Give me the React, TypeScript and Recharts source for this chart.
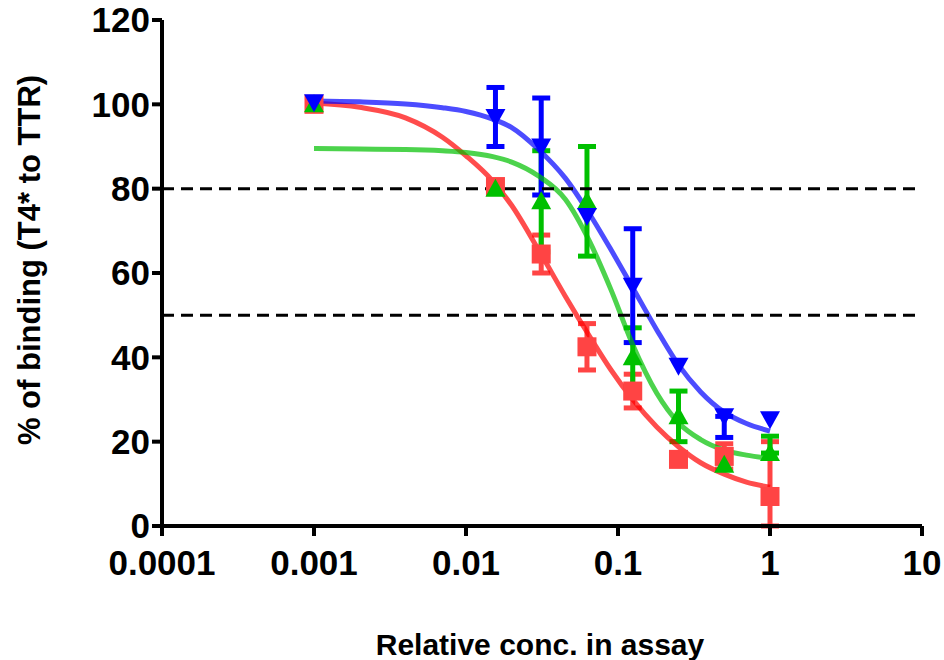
import React from 'react';
import {
  ComposedChart, Line, Scatter, XAxis, YAxis, ErrorBar, ReferenceLine, Label,
} from 'recharts';

// Measured points (serial dilutions); errors are [below, above]
const concX = [0.001, 0.015625, 0.03125, 0.0625, 0.125, 0.25, 0.5, 1];
const redY = [100, 80.5, 64.5, 42.5, 32, 15.8, 16.5, 7];
const redErr = [0, 0, [4.5, 4.5], [5.5, 5.5], [4, 4], 0, [3, 3], [7, 13]];
const greenY = [100, 80, 77, 77, 40, 26, 14.5, 17.3];
const greenErr = [0, 0, [12, 12], [13, 13], [7, 7], [6, 6], 0, [0, 4]];
const blueY = [100.5, 97, 90, 73.5, 57, 38, 26, 25.3];
const blueErr = [0, [7, 7], [11.5, 11.5], 0, [13.5, 13.5], 0, [5, 0], 0];

// Fitted curves
const curveX = [0.001, 0.002, 0.004, 0.007, 0.01, 0.015, 0.02, 0.03, 0.045, 0.065, 0.09, 0.125, 0.18, 0.25, 0.35, 0.5, 0.7, 1];
const redFit = [100.3, 99.3, 96.8, 92.2, 87.8, 81.8, 76, 65.5, 54.5, 45, 37, 30, 23.5, 18.8, 15, 12.3, 10.4, 9.2];
const greenFit = [89.5, 89.4, 89.3, 89, 88.6, 87.6, 86.3, 83, 77.5, 67.5, 56, 43, 31.5, 24.5, 20.5, 18, 16.8, 16];
const blueFit = [100.8, 100.6, 100.1, 99.2, 98.3, 96.5, 94.5, 89.3, 82.5, 74, 65.5, 56.5, 46.5, 38.2, 31.8, 27, 24.3, 22.5];

const xTicks = [0.0001, 0.001, 0.01, 0.1, 1, 10];
const yTicks = [0, 20, 40, 60, 80, 100, 120];

const RED = '#ff4444';
const GREEN = '#00c000';
const BLUE = '#0000ff';
const FONT = '"Liberation Sans", Arial, sans-serif';

const points = (ys: number[], errs: any[]) => concX.map((x, i) => ({ x, y: ys[i], err: errs[i] }));
const curve = (ys: number[]) => curveX.map((x, i) => ({ x, y: ys[i] }));

const Square = (p: any) => <rect x={p.cx - 9.5} y={p.cy - 9.5} width={19} height={19} fill={RED} />;
const TriUp = (p: any) => (
  <polygon points={`${p.cx},${p.cy - 10} ${p.cx - 10},${p.cy + 8} ${p.cx + 10},${p.cy + 8}`} fill={GREEN} />
);
const TriDown = (p: any) => (
  <polygon points={`${p.cx - 10},${p.cy - 8} ${p.cx + 10},${p.cy - 8} ${p.cx},${p.cy + 10}`} fill={BLUE} />
);

const tickStyle = { fill: '#000', fontSize: 35, fontWeight: 'bold', fontFamily: FONT };

export default function App() {
  return (
    <div style={{ position: 'absolute', left: 0, top: 0 }}>
      <ComposedChart width={944} height={660} margin={{ top: 20, right: 22, left: 0, bottom: 0 }}>
        <XAxis
          dataKey="x" type="number" scale="log" domain={[0.0001, 10]} ticks={xTicks}
          allowDataOverflow tickFormatter={(v: number) => String(v)}
          height={134} tick={tickStyle} tickSize={10} tickMargin={14}
          axisLine={{ stroke: '#000', strokeWidth: 4 }} tickLine={{ stroke: '#000', strokeWidth: 4 }}
        >
          <Label
            content={() => (
              <text x={540} y={655} textAnchor="middle" fontSize={30} fontWeight="bold" fontFamily={FONT} fill="#000">
                Relative conc. in assay
              </text>
            )}
          />
        </XAxis>
        <YAxis
          type="number" domain={[0, 120]} ticks={yTicks} width={162} allowDataOverflow
          tick={tickStyle} tickSize={10} tickMargin={2}
          axisLine={{ stroke: '#000', strokeWidth: 4 }} tickLine={{ stroke: '#000', strokeWidth: 4 }}
        >
          <Label
            content={() => (
              <text x={29} y={260} transform="rotate(-90 29 260)" textAnchor="middle" dominantBaseline="central"
                fontSize={31} fontWeight="bold" fontFamily={FONT} fill="#000">
                % of binding (T4* to TTR)
              </text>
            )}
          />
        </YAxis>

        <Scatter data={points(redY, redErr)} dataKey="y" shape={Square} isAnimationActive={false}>
          <ErrorBar dataKey="err" direction="y" width={9} strokeWidth={5} stroke={RED} />
        </Scatter>
        <Scatter data={points(greenY, greenErr)} dataKey="y" shape={TriUp} isAnimationActive={false}>
          <ErrorBar dataKey="err" direction="y" width={9} strokeWidth={5} stroke={GREEN} />
        </Scatter>
        <Scatter data={points(blueY, blueErr)} dataKey="y" shape={TriDown} isAnimationActive={false}>
          <ErrorBar dataKey="err" direction="y" width={9} strokeWidth={5} stroke={BLUE} />
        </Scatter>

        <Line data={curve(redFit)} dataKey="y" type="monotone" dot={false} stroke="#ff0000" strokeOpacity={0.7} strokeWidth={5} isAnimationActive={false} />
        <Line data={curve(greenFit)} dataKey="y" type="monotone" dot={false} stroke="#00c000" strokeOpacity={0.7} strokeWidth={5} isAnimationActive={false} />
        <Line data={curve(blueFit)} dataKey="y" type="monotone" dot={false} stroke="#0000ff" strokeOpacity={0.7} strokeWidth={5} isAnimationActive={false} />

        <ReferenceLine y={80} stroke="#000" strokeWidth={3} strokeDasharray="12 7" />
        <ReferenceLine y={50} stroke="#000" strokeWidth={3} strokeDasharray="12 7" />
      </ComposedChart>
    </div>
  );
}
